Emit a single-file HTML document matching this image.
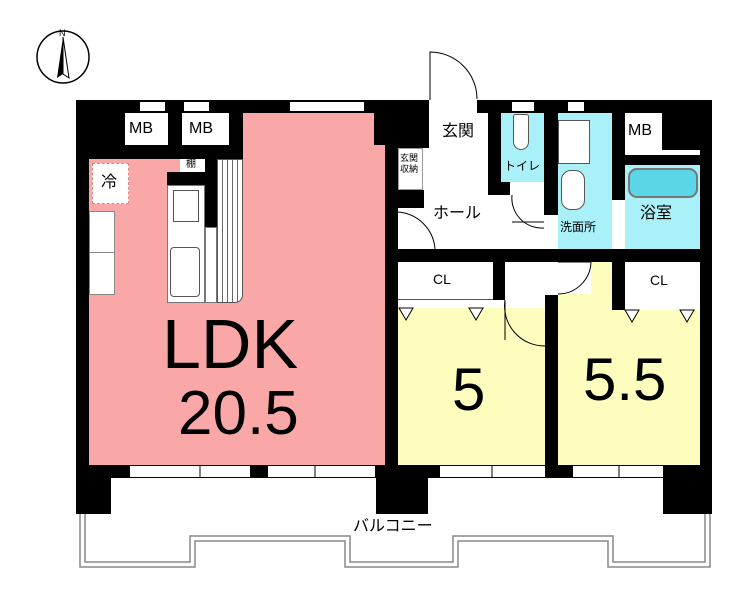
<!DOCTYPE html>
<html><head><meta charset="utf-8"><style>
body{margin:0;width:740px;height:592px;background:#fff;position:relative;overflow:hidden;font-family:"Liberation Sans","Noto Sans CJK JP",sans-serif}
div{position:absolute;box-sizing:border-box}
.b{background:#000}.w{background:#fff}.p{background:#f9a7a7}.y{background:#fdfdbd}.c{background:#aaf0f8}
.t{color:#000;white-space:nowrap;line-height:1}
.win{background:#fff;border-top:1.5px solid #000;border-bottom:1.5px solid #000}
</style></head><body>
<div class="b" style="left:76px;top:100px;width:636px;height:378px"></div>
<!-- LDK -->
<div class="p" style="left:243px;top:113px;width:131px;height:40px"></div>
<div class="p" style="left:89px;top:145px;width:296px;height:320px"></div>
<div class="b" style="left:89px;top:145px;width:154px;height:14px"></div>
<div class="w" style="left:125px;top:113px;width:43px;height:32px"></div>
<div class="w" style="left:182px;top:113px;width:47px;height:32px"></div>
<div class="t" style="left:129px;top:121px;font-size:16px">MB</div>
<div class="t" style="left:189px;top:121px;font-size:16px">MB</div>
<div class="win" style="left:140px;top:101px;width:25px;height:11px"></div>
<div class="win" style="left:184px;top:101px;width:25px;height:11px"></div>
<div class="win" style="left:290px;top:101px;width:74px;height:11px"></div>
<!-- kitchen -->
<div style="left:92px;top:163px;width:37px;height:41px;background:#fff;border:1.5px dashed #d88"></div>
<div class="t" style="left:101px;top:175px;font-size:16px">冷</div>
<div class="w" style="left:89px;top:211px;width:26px;height:42px;border:1px solid #888"></div>
<div class="w" style="left:89px;top:252px;width:26px;height:43px;border:1px solid #888"></div>
<div class="w" style="left:180px;top:159px;width:25px;height:13px"></div>
<div class="t" style="left:186px;top:160px;font-size:10px">棚</div>
<div class="b" style="left:167px;top:172px;width:48px;height:13px"></div>
<div class="b" style="left:205px;top:159px;width:12px;height:68px"></div>
<div class="w" style="left:167px;top:185px;width:38px;height:118px;border:1px solid #777"></div>
<div class="w" style="left:173px;top:190px;width:26px;height:32px;border:1px solid #555"></div>
<div class="w" style="left:170px;top:247px;width:30px;height:50px;border:1px solid #555;border-radius:4px"></div>
<div class="w" style="left:205px;top:227px;width:12px;height:76px;border:1px solid #777"></div>
<div style="left:217px;top:159px;width:26px;height:144px;border-radius:0 0 8px 0;border:1px solid #555;background:repeating-linear-gradient(90deg,#fff 0 4px,#666 4px 5px)"></div>
<div class="t" style="left:162px;top:309px;font-size:70px">LDK</div>
<div class="t" style="left:178px;top:383px;font-size:62px">20.5</div>
<!-- entrance / hall -->
<div class="w" style="left:429px;top:100px;width:48px;height:13px"></div>
<div class="w" style="left:429px;top:113px;width:59px;height:37px"></div>
<div class="w" style="left:398px;top:148px;width:147px;height:101px"></div>
<div class="w" style="left:398px;top:148px;width:25px;height:42px;border:1px solid #999"></div>
<div class="t" style="left:400px;top:153px;font-size:9px;line-height:11px">玄関<br>収納</div>
<div class="b" style="left:385px;top:190px;width:39px;height:18px"></div>
<div class="b" style="left:488px;top:100px;width:13px;height:95px"></div>
<div class="b" style="left:501px;top:182px;width:9px;height:13px"></div>
<div class="b" style="left:544px;top:100px;width:14px;height:115px"></div>
<div class="t" style="left:442px;top:124px;font-size:16px">玄関</div>
<div class="t" style="left:433px;top:206px;font-size:16px">ホール</div>
<!-- toilet -->
<div class="c" style="left:501px;top:113px;width:43px;height:69px"></div>
<div class="w" style="left:513px;top:114px;width:16px;height:36px;border:1px solid #555;border-radius:3px 3px 9px 9px"></div>
<div class="win" style="left:512px;top:101px;width:22px;height:11px"></div>
<div class="t" style="left:504px;top:160px;font-size:12px">トイレ</div>
<!-- washroom -->
<div class="c" style="left:558px;top:113px;width:54px;height:136px"></div>
<div class="w" style="left:558px;top:120px;width:32px;height:44px;border:1px solid #555"></div>
<div class="w" style="left:561px;top:170px;width:24px;height:40px;border:1px solid #555;border-radius:10px"></div>
<div class="win" style="left:568px;top:101px;width:16px;height:11px"></div>
<div class="t" style="left:560px;top:221px;font-size:12px">洗面所</div>
<div class="w" style="left:545px;top:215px;width:13px;height:34px"></div>
<!-- MB right & bath -->
<div class="w" style="left:625px;top:113px;width:37px;height:37px"></div>
<div class="t" style="left:628px;top:123px;font-size:16px">MB</div>
<div class="b" style="left:662px;top:145px;width:38px;height:5px"></div>
<div class="w" style="left:625px;top:150px;width:75px;height:5px"></div>
<div class="c" style="left:625px;top:165px;width:75px;height:84px"></div>
<div class="w" style="left:612px;top:200px;width:13px;height:49px"></div>
<div style="left:628px;top:168px;width:70px;height:30px;border:2px solid #777;border-radius:9px;background:#5bd6e6"></div>
<div class="t" style="left:640px;top:206px;font-size:16px">浴室</div>
<!-- bedrooms -->
<div class="w" style="left:398px;top:262px;width:95px;height:38px;border-bottom:1px solid #555"></div>
<div class="t" style="left:433px;top:272px;font-size:14px">CL</div>
<div class="w" style="left:505px;top:262px;width:40px;height:46px"></div>
<div class="w" style="left:545px;top:262px;width:13px;height:33px"></div>
<div class="y" style="left:398px;top:308px;width:147px;height:157px"></div>
<div class="w" style="left:398px;top:300px;width:147px;height:8px"></div>
<div class="y" style="left:558px;top:262px;width:54px;height:48px"></div>
<div class="w" style="left:558px;top:262px;width:33px;height:32px"></div>
<div class="w" style="left:625px;top:262px;width:75px;height:48px"></div>
<div class="t" style="left:650px;top:273px;font-size:14px">CL</div>
<div class="y" style="left:558px;top:310px;width:142px;height:155px"></div>
<svg style="position:absolute;left:0;top:0" width="740" height="592"><g fill="none" stroke="#000" stroke-width="1">
<path d="M430 100 V52 A47 47 0 0 1 477 99"/>
<path d="M398 212 A40 40 0 0 1 435 249"/>
<path d="M512 195 A30 30 0 0 0 544 228 M512 222 H544"/>
<path d="M558 262 H591 A33 33 0 0 1 558 294"/>
<path d="M505 300 A40 40 0 0 0 545 346 M505 300 V340"/>
</g><g fill="#fff" stroke="#000" stroke-width="1">
<path d="M399 308 L413 308 L406 320Z M469 308 L483 308 L476 320Z M625 310 L639 310 L632 322Z M680 310 L694 310 L687 322Z"/></g></svg>
<div class="t" style="left:452px;top:360px;font-size:60px">5</div>
<div class="t" style="left:583px;top:350px;font-size:60px">5.5</div>
<!-- bottom windows and piers -->
<div class="win" style="left:130px;top:465px;width:120px;height:13px"></div>
<div class="win" style="left:268px;top:465px;width:107px;height:13px"></div>
<div class="win" style="left:440px;top:465px;width:105px;height:13px"></div>
<div class="win" style="left:573px;top:465px;width:90px;height:13px"></div>
<div class="b" style="left:76px;top:465px;width:35px;height:49px"></div>
<div class="b" style="left:376px;top:465px;width:52px;height:49px"></div>
<div class="b" style="left:663px;top:465px;width:49px;height:49px"></div>
<svg style="position:absolute;left:0;top:0" width="740" height="592"><g fill="none" stroke="#888" stroke-width="1.5">
<path d="M80 514 V567 H195 V541 H345 V567 H458 V541 H608 V567 H710 V514"/>
<path d="M85 514 V562 H190 V536 H350 V562 H453 V536 H613 V562 H705 V514"/></g>
<g stroke="#000"><line x1="200" y1="466" x2="200" y2="478"/><line x1="315" y1="466" x2="315" y2="478"/><line x1="492" y1="466" x2="492" y2="478"/><line x1="619" y1="466" x2="619" y2="478"/></g>
<circle cx="63" cy="57" r="26" fill="#fff" stroke="#000" stroke-width="1.5"/>
<path d="M63 37 L57 78 L63 74 Z" fill="#000"/><path d="M63 37 L69 78 L63 74 Z" fill="#fff" stroke="#000"/>
<text x="59" y="36" font-size="9" font-family="Liberation Sans">N</text></svg>
<div class="t" style="left:353px;top:519px;font-size:16px">バルコニー</div>
</body></html>
